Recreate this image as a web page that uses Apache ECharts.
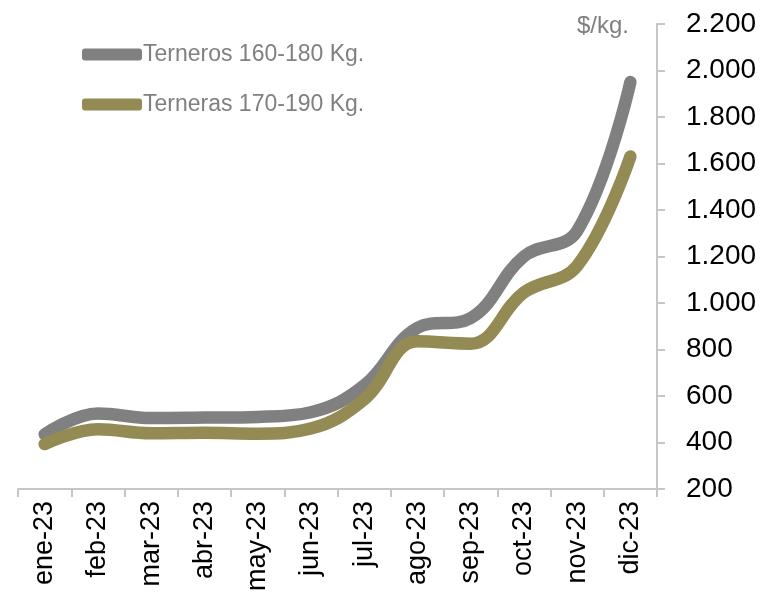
<!DOCTYPE html>
<html>
<head>
<meta charset="utf-8">
<script src="https://cdn.jsdelivr.net/npm/echarts@6/dist/echarts.min.js"></script>
<style>
html,body{margin:0;padding:0;background:#fff;}
#chart{width:761px;height:594px;}
</style>
</head>
<body>
<div id="chart"></div>
<script>
var categories = ['ene-23','feb-23','mar-23','abr-23','may-23','jun-23','jul-23','ago-23','sep-23','oct-23','nov-23','dic-23'];
var terneros = [435, 525, 505, 507, 510, 530, 645, 893, 935, 1200, 1310, 1950];
var terneras = [393, 457, 440, 442, 438, 460, 585, 835, 825, 1045, 1160, 1630];
var seriesNames = ['Terneros 160-180 Kg.', 'Terneras 170-190 Kg.'];
var unitLabel = '$/kg.';

var chart = echarts.init(document.getElementById('chart'), null, {renderer:'canvas'});
var FONT = 'Liberation Sans';
function fmt(v){ return String(v).replace(/\B(?=(\d{3})+(?!\d))/g, '.'); }

chart.setOption({
  animation:false,
  backgroundColor:'#ffffff',
  grid:{left:18, right:104, top:24, bottom:104, containLabel:false},
  legend:{
    orient:'vertical', left:77, top:38, itemWidth:60, itemHeight:12, itemGap:27,
    icon:'roundRect',
    textStyle:{fontFamily:FONT, fontSize:23, color:'#808080', padding:[0,0,0,-4]},
    data:seriesNames
  },
  graphic:[{type:'text', left:577, top:14, style:{text:unitLabel, font:'24px "Liberation Sans"', fill:'#808080'}}],
  xAxis:{
    type:'category', data:categories, boundaryGap:true,
    axisLine:{show:true, lineStyle:{color:'#c6c6c6', width:2}},
    axisTick:{show:true, alignWithLabel:false, length:8, lineStyle:{color:'#c6c6c6', width:2}},
    axisLabel:{rotate:90, margin:12, fontFamily:FONT, fontSize:27, color:'#000'},
    splitLine:{show:false}
  },
  yAxis:{
    type:'value', position:'right', min:200, max:2200, interval:200,
    axisLine:{show:true, lineStyle:{color:'#c6c6c6', width:2}},
    axisTick:{show:true, inside:false, length:8, lineStyle:{color:'#c6c6c6', width:2}},
    axisLabel:{margin:29, fontFamily:FONT, fontSize:28, color:'#000', formatter:fmt},
    splitLine:{show:false}
  },
  series:[
    {name:seriesNames[0], type:'line', data:terneros, smooth:0.4, symbol:'none',
     itemStyle:{color:'#808080'},
     lineStyle:{color:'#808080', width:12.5, cap:'round', join:'round'}},
    {name:seriesNames[1], type:'line', data:terneras, smooth:0.4, symbol:'none',
     itemStyle:{color:'#948A54'},
     lineStyle:{color:'#948A54', width:12.5, cap:'round', join:'round'}}
  ]
});
</script>
</body>
</html>
